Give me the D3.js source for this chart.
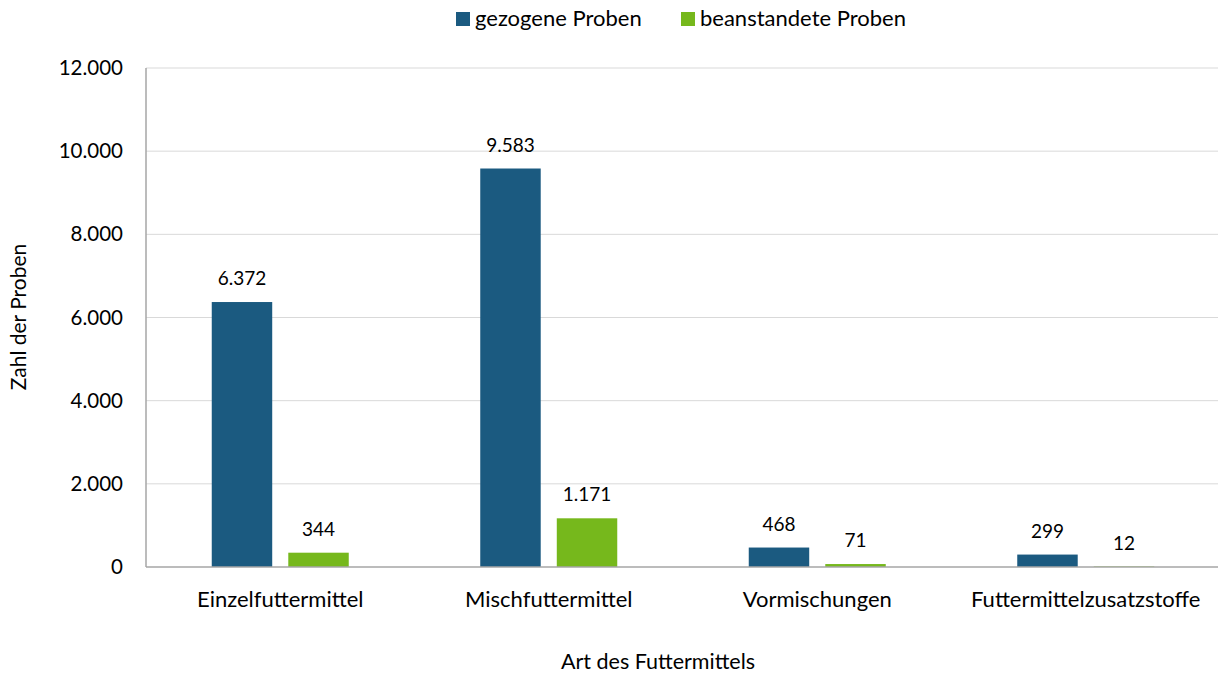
<!DOCTYPE html>
<html>
<head>
<meta charset="utf-8">
<script src="https://cdn.jsdelivr.net/npm/d3@7"></script>
<style>
  body { margin: 0; background: #fff; }
  text { font-family: Lato, "Open Sans", sans-serif; fill: #000; }
</style>
</head>
<body>
<div id="chart"></div>
<script>
// chart data
var categories = ["Einzelfuttermittel", "Mischfuttermittel", "Vormischungen", "Futtermittelzusatzstoffe"];
var seriesNames = ["gezogene Proben", "beanstandete Proben"];
var gezogen = [6372, 9583, 468, 299];
var beanstandet = [344, 1171, 71, 12];
var yTicks = [0, 2000, 4000, 6000, 8000, 10000, 12000];
var colors = ["#1b5a80", "#76b81c"];

var width = 1218, height = 675;
var margin = {top: 68, right: -2, bottom: 108, left: 146};

var svg = d3.select("#chart").append("svg")
  .attr("width", width)
  .attr("height", height);

var fmt = d3.formatLocale({decimal: ",", thousands: ".", grouping: [3], currency: ["", "€"]}).format(",d");

var x0 = d3.scaleBand()
  .domain(categories)
  .range([margin.left, width - margin.right]);

var x1 = d3.scaleBand()
  .domain(seriesNames)
  .range([0, 137])
  .paddingInner(0.21);

var y = d3.scaleLinear()
  .domain([0, 12000])
  .range([height - margin.bottom, margin.top]);

// gridlines
svg.append("g")
  .selectAll("line")
  .data(yTicks.slice(1))
  .join("line")
  .attr("x1", margin.left)
  .attr("x2", width - margin.right)
  .attr("y1", d => y(d))
  .attr("y2", d => y(d))
  .attr("stroke", "#d9d9d9")
  .attr("stroke-width", 1);

// y tick labels
svg.append("g")
  .selectAll("text")
  .data(yTicks)
  .join("text")
  .attr("x", margin.left - 23)
  .attr("y", d => y(d) + 7)
  .attr("text-anchor", "end")
  .style("font-size", "20.5px")
  .text(d => fmt(d));

// bars
var rows = categories.map((c, i) => ({cat: c, vals: [gezogen[i], beanstandet[i]]}));

var groups = svg.append("g")
  .selectAll("g")
  .data(rows)
  .join("g")
  .attr("transform", d => "translate(" + (x0(d.cat) + x0.bandwidth() / 2 - 68.5) + ",0)");

groups.selectAll("rect")
  .data(d => d.vals.map((v, j) => ({name: seriesNames[j], v: v, j: j})))
  .join("rect")
  .attr("x", d => x1(d.name))
  .attr("width", x1.bandwidth())
  .attr("y", d => y(d.v))
  .attr("height", d => y(0) - y(d.v))
  .attr("fill", d => colors[d.j]);

groups.selectAll("text")
  .data(d => d.vals.map((v, j) => ({name: seriesNames[j], v: v})))
  .join("text")
  .attr("x", d => x1(d.name) + x1.bandwidth() / 2)
  .attr("y", d => y(d.v) - 17)
  .attr("text-anchor", "middle")
  .style("font-size", "19px")
  .text(d => fmt(d.v));

// axes lines
svg.append("line")
  .attr("x1", margin.left).attr("x2", width - margin.right)
  .attr("y1", y(0)).attr("y2", y(0))
  .attr("stroke", "#a6a6a6").attr("stroke-width", 1.5);
svg.append("line")
  .attr("x1", margin.left).attr("x2", margin.left)
  .attr("y1", y(0)).attr("y2", y(12000))
  .attr("stroke", "#a6a6a6").attr("stroke-width", 1.5);

// category labels
svg.append("g")
  .selectAll("text")
  .data(categories)
  .join("text")
  .attr("x", d => x0(d) + x0.bandwidth() / 2)
  .attr("y", 607)
  .attr("text-anchor", "middle")
  .style("font-size", "22px")
  .text(d => d);

// axis titles
svg.append("text")
  .attr("x", 658)
  .attr("y", 669)
  .attr("text-anchor", "middle")
  .style("font-size", "21.5px")
  .text("Art des Futtermittels");

svg.append("text")
  .attr("transform", "translate(26,317) rotate(-90)")
  .attr("text-anchor", "middle")
  .style("font-size", "21px")
  .text("Zahl der Proben");

// legend
var legendX = [456, 681];
var legend = svg.append("g")
  .selectAll("g")
  .data(seriesNames)
  .join("g")
  .attr("transform", (d, i) => "translate(" + legendX[i] + ",12)");
legend.append("rect")
  .attr("width", 14).attr("height", 14)
  .attr("fill", (d, i) => colors[i]);
legend.append("text")
  .attr("x", 19)
  .attr("y", 14)
  .style("font-size", "22px")
  .text(d => d);
</script>
</body>
</html>
